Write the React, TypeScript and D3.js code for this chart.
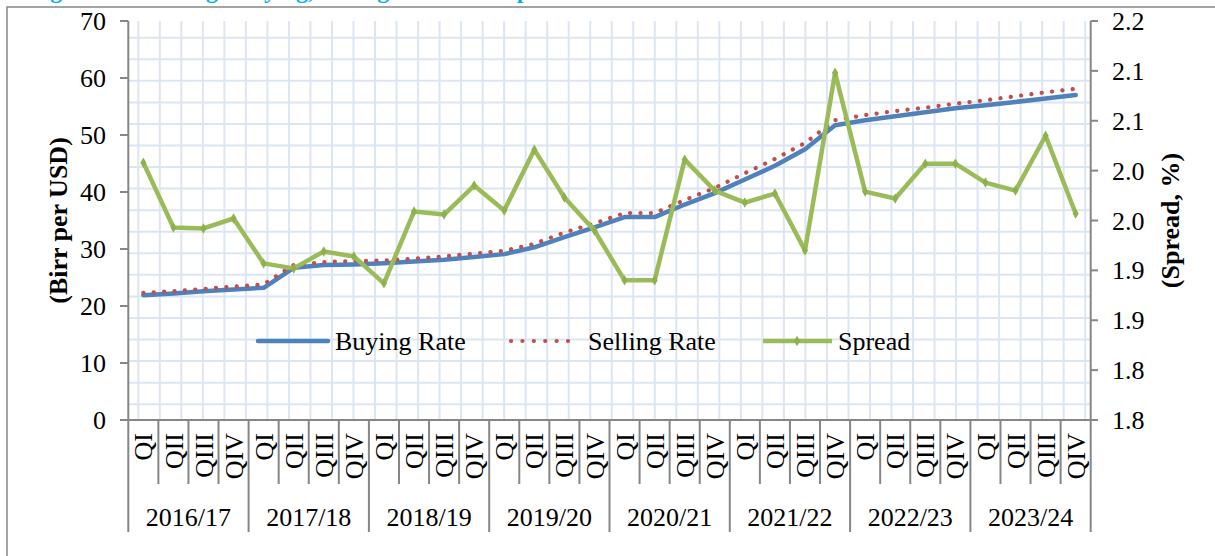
import React from "react";
import * as d3 from "d3";

// fiscal years and quarters on the two-level category axis
const years = ["2016/17", "2017/18", "2018/19", "2019/20", "2020/21", "2021/22", "2022/23", "2023/24"];
const quarters = ["QI", "QII", "QIII", "QIV"];

// Birr per USD
const buyingRate = [
  21.9, 22.2, 22.6, 22.9, 23.2, 26.7, 27.2, 27.3, 27.5, 27.8, 28.1, 28.6, 29.1, 30.3, 32.1, 33.8,
  35.6, 35.6, 37.8, 39.8, 42.2, 44.6, 47.5, 51.7, 52.6, 53.3, 54.0, 54.7, 55.2, 55.8, 56.4, 57.0,
];
const sellingRate = [
  22.3, 22.6, 23.0, 23.4, 23.8, 27.2, 27.7, 27.9, 28.0, 28.3, 28.7, 29.2, 29.7, 30.9, 32.9, 34.5,
  36.3, 36.3, 38.6, 40.7, 43.3, 45.8, 48.6, 52.6, 53.5, 54.2, 54.8, 55.5, 56.1, 56.8, 57.5, 58.1,
];
// spread, % (right axis)
const spread = [
  2.058, 1.993, 1.992, 2.002, 1.957, 1.952, 1.969, 1.964, 1.937, 2.009, 2.006, 2.035, 2.01, 2.071, 2.023, 1.99,
  1.94, 1.94, 2.061, 2.03, 2.018, 2.027, 1.97, 2.148, 2.029, 2.022, 2.057, 2.057, 2.038, 2.03, 2.085, 2.007,
];

const rateTicks = [0, 10, 20, 30, 40, 50, 60, 70];
const spreadTicks = [1.8, 1.85, 1.9, 1.95, 2.0, 2.05, 2.1, 2.15, 2.2];
const spreadTickLabels = ["1.8", "1.8", "1.9", "1.9", "2.0", "2.0", "2.1", "2.1", "2.2"];

const W = 1215;
const H = 556;
const plotL = 128.3;
const plotR = 1090.7;
const plotT = 21;
const plotB = 420;
const font = "'Liberation Serif', 'Times New Roman', serif";
const axisGray = "#868686";

export default function App() {
  const periods = years.flatMap((y) => quarters.map((q) => `${y} ${q}`));
  const x = d3.scaleBand<string>().domain(periods).range([plotL, plotR]);
  const bw = x.bandwidth();
  const cx = (i: number) => (x(periods[i]) as number) + bw / 2;
  const yRate = d3.scaleLinear().domain([0, 70]).range([plotB, plotT]);
  const ySpread = d3.scaleLinear().domain([1.8, 2.2]).range([plotB, plotT]);

  const rateLine = d3
    .line<number>()
    .x((_, i) => cx(i))
    .y((d) => yRate(d));
  const spreadLine = d3
    .line<number>()
    .x((_, i) => cx(i))
    .y((d) => ySpread(d));
  const diamond = d3.symbol().type(d3.symbolDiamond).size(32)();

  // graph-paper style background grid
  const gridX = d3.range(138.3, plotR, 21.52);
  const gridY = d3.range(37.7, plotB, 21.56);

  return (
    <svg
      width={W}
      height={H}
      style={{ position: "absolute", left: 0, top: 0, background: "#fff" }}
      fontFamily={font}
    >
      {/* caption above the frame, only its descenders show */}
      <text x={29} y={-2} fontSize={24} fontWeight="bold" fill="#00b0f0">
        Figure 3: Exchange Buying, Selling Rates and Spread
      </text>
      {/* outer frame */}
      <path d={`M7,${H}V7H${W}`} fill="none" stroke={axisGray} strokeWidth={1.5} />

      {/* grid */}
      <g stroke="#dce6f2" strokeWidth={2}>
        {gridX.map((gx) => (
          <line key={"gx" + gx} x1={gx} x2={gx} y1={plotT} y2={plotB} />
        ))}
        {gridY.map((gy) => (
          <line key={"gy" + gy} x1={plotL} x2={plotR} y1={gy} y2={gy} />
        ))}
      </g>

      {/* axes */}
      <g stroke={axisGray} strokeWidth={2}>
        <line x1={plotL} x2={plotL} y1={plotT} y2={plotB} />
        <line x1={plotR} x2={plotR} y1={plotT} y2={plotB} />
        <line x1={120} x2={1098} y1={plotB} y2={plotB} />
        {rateTicks.map((t) => (
          <line key={"lt" + t} x1={120} x2={plotL} y1={yRate(t)} y2={yRate(t)} />
        ))}
        {spreadTicks.map((t) => (
          <line key={"rt" + t} x1={plotR} x2={1098} y1={ySpread(t)} y2={ySpread(t)} />
        ))}
        {periods.map((p, i) => (
          <line
            key={"sep" + p}
            x1={x(p) as number}
            x2={x(p) as number}
            y1={plotB}
            y2={i % 4 === 0 ? 532 : 484}
          />
        ))}
        <line x1={plotR} x2={plotR} y1={plotB} y2={532} />
      </g>
      <g fontSize={26} fill="#000">
        {rateTicks.map((t) => (
          <text key={"ll" + t} x={106} y={yRate(t)} dy="0.35em" textAnchor="end">
            {t}
          </text>
        ))}
        {spreadTicks.map((t, i) => (
          <text key={"rl" + t} x={1112} y={ySpread(t)} dy="0.35em">
            {spreadTickLabels[i]}
          </text>
        ))}
        {periods.map((p, i) => (
          <text
            key={"q" + p}
            transform={`translate(${cx(i)},433) rotate(-90)`}
            dy="0.35em"
            textAnchor="end"
          >
            {quarters[i % 4]}
          </text>
        ))}
        {years.map((y, i) => (
          <text
            key={y}
            x={((x(periods[i * 4]) as number) + (x(periods[i * 4 + 3]) as number) + bw) / 2}
            y={526}
            textAnchor="middle"
          >
            {y}
          </text>
        ))}
      </g>

      {/* axis titles */}
      <text
        transform={`translate(58,${(plotT + plotB) / 2}) rotate(-90)`}
        dy="0.35em"
        textAnchor="middle"
        fontSize={26}
        fontWeight="bold"
      >
        (Birr per USD)
      </text>
      <text
        transform={`translate(1170,${(plotT + plotB) / 2}) rotate(-90)`}
        dy="0.35em"
        textAnchor="middle"
        fontSize={26}
        fontWeight="bold"
      >
        (Spread, %)
      </text>

      {/* series */}
      <path d={rateLine(buyingRate) ?? ""} fill="none" stroke="#4f81bd" strokeWidth={4.5} strokeLinejoin="round" strokeLinecap="round" />
      <path
        d={rateLine(sellingRate) ?? ""}
        fill="none"
        stroke="#c0504d"
        strokeWidth={4.2}
        strokeLinecap="round"
        strokeDasharray="0.1 10.3"
      />
      <path d={spreadLine(spread) ?? ""} fill="none" stroke="#9bbb59" strokeWidth={4.5} strokeLinejoin="round" />
      {spread.map((s, i) => (
        <path key={"m" + i} d={diamond ?? ""} transform={`translate(${cx(i)},${ySpread(s)})`} fill="#8db24c" />
      ))}

      {/* legend */}
      <g fontSize={26}>
        <line x1={258} x2={328} y1={341} y2={341} stroke="#4f81bd" strokeWidth={4.5} strokeLinecap="round" />
        <text x={335} y={341} dy="0.35em">Buying Rate</text>
        <line
          x1={511}
          x2={579}
          y1={341}
          y2={341}
          stroke="#c0504d"
          strokeWidth={4.2}
          strokeLinecap="round"
          strokeDasharray="0.1 11.3"
        />
        <text x={588} y={341} dy="0.35em">Selling Rate</text>
        <line x1={763} x2={832} y1={341} y2={341} stroke="#9bbb59" strokeWidth={4.5} />
        <path d={diamond ?? ""} transform="translate(797,341)" fill="#8db24c" />
        <text x={838} y={341} dy="0.35em">Spread</text>
      </g>
    </svg>
  );
}
